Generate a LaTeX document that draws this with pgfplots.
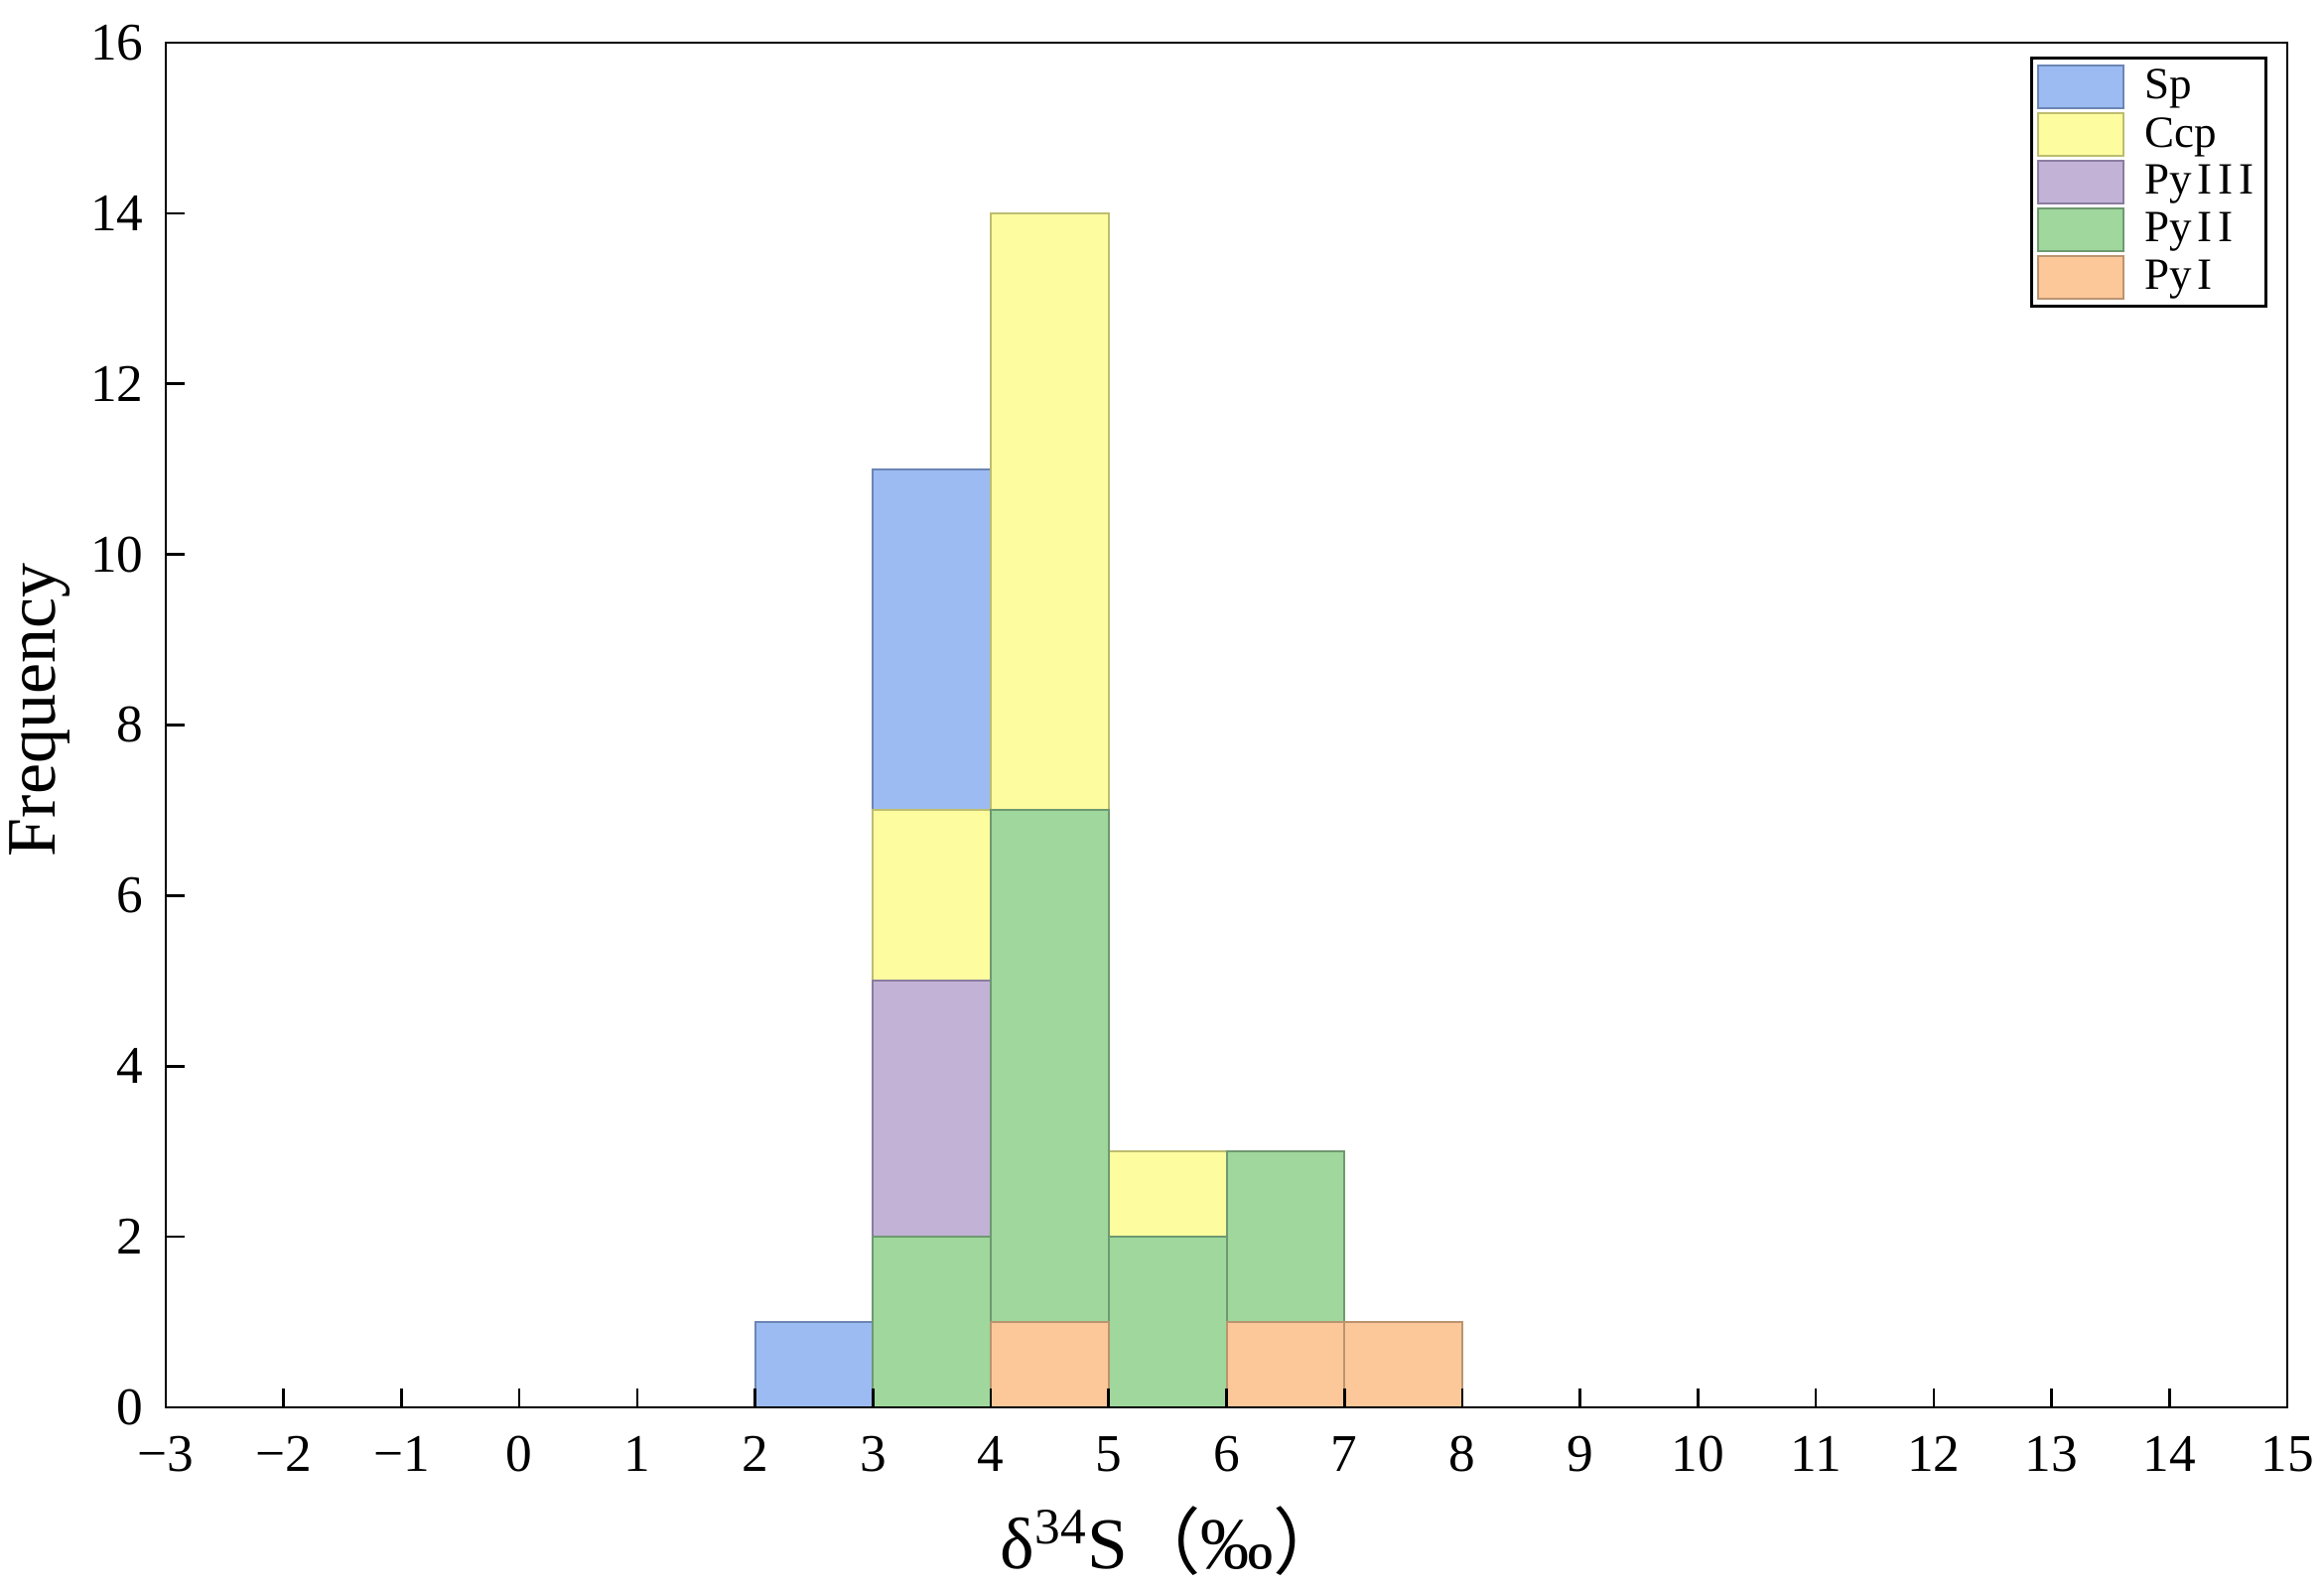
\documentclass[border=0pt]{standalone}
\usepackage{fontspec}
\setmainfont{Liberation Serif}
\newfontfamily\cjk{Noto Sans CJK SC}
\usepackage{pgfplots}
\pgfplotsset{compat=1.18}
\definecolor{spfill}{HTML}{9CBBF2}\definecolor{spedge}{HTML}{6B86B5}
\definecolor{ccfill}{HTML}{FDFDA0}\definecolor{ccedge}{HTML}{BDBD70}
\definecolor{p3fill}{HTML}{C1B2D6}\definecolor{p3edge}{HTML}{8A7CA0}
\definecolor{p2fill}{HTML}{9FD79C}\definecolor{p2edge}{HTML}{6E9970}
\definecolor{p1fill}{HTML}{FDC899}\definecolor{p1edge}{HTML}{BA9470}
\begin{document}
\begin{tikzpicture}
\begin{axis}[
 scale only axis, width=641.1pt, height=412.5pt,
 xmin=-3, xmax=15, ymin=0, ymax=16,
 xtick={-3,...,15},
 xticklabels={−3,−2,−1,0,1,2,3,4,5,6,7,8,9,10,11,12,13,14,15},
 ytick={0,2,...,16},
 tick align=inside, xtick pos=bottom, ytick pos=left,
 major tick length=5.7pt,
 line width=0.8pt,
 tick style={black, line width=0.8pt},
 axis line style={line width=0.8pt},
 every outer x axis line/.append style={line width=0.8pt},
 every outer y axis line/.append style={line width=0.8pt},
 axis on top,
 /pgf/number format/assume math mode=true,
 ticklabel style={font=\fontsize{16}{18}\selectfont},
 xticklabel style={yshift=-5pt},
 yticklabel style={xshift=-3pt},
 xlabel={δ\textsuperscript{34}S{\cjk （}‰{\cjk ）}},
 xlabel style={at={(axis description cs:0.475,-0.098)}, anchor=center, font=\fontsize{22}{24}\selectfont},
 ylabel={Frequency},
 ylabel style={at={(axis description cs:-0.0593,0.511)}, anchor=center, font=\fontsize{21}{24}\selectfont},
 legend style={at={(rel axis cs:1,1)}, anchor=north east, xshift=-6pt, yshift=-4.2pt,
   draw=black, line width=0.9pt, font=\fontsize{13.5}{15}\selectfont,
   cells={anchor=west}, row sep=0pt, inner sep=1.5pt},
 legend image code/.code={\draw[#1, line width=0.6pt] (0pt,-6.5pt) rectangle (26pt,6.5pt); \path (30pt,0pt);},
]
\addplot[ybar interval, fill=spfill, draw=spedge, line width=0.6pt] coordinates {(2,1)(3,11)(4,14)(5,3)(6,3)(7,1)(8,1)};
\addlegendentry{Sp}
\addplot[ybar interval, fill=ccfill, draw=ccedge, line width=0.6pt] coordinates {(2,0)(3,7)(4,14)(5,3)(6,3)(7,1)(8,1)};
\addlegendentry{Ccp}
\addplot[ybar interval, fill=p3fill, draw=p3edge, line width=0.6pt] coordinates {(2,0)(3,5)(4,7)(5,2)(6,3)(7,1)(8,1)};
\addlegendentry{Py\kern1.8pt I\kern1.8pt I\kern1.8pt I}
\addplot[ybar interval, fill=p2fill, draw=p2edge, line width=0.6pt] coordinates {(2,0)(3,2)(4,7)(5,2)(6,3)(7,1)(8,1)};
\addlegendentry{Py\kern1.8pt I\kern1.8pt I}
\addplot[ybar interval, fill=p1fill, draw=p1edge, line width=0.6pt] coordinates {(2,0)(3,0)(4,1)(5,0)(6,1)(7,1)(8,1)};
\addlegendentry{Py\kern1.8pt I}
\end{axis}
\pgfresetboundingbox
\path[use as bounding box] ([xshift=-50.1pt,yshift=-54.3pt]current axis.south west) rectangle ([xshift=11.1pt,yshift=12.9pt]current axis.north east);
\end{tikzpicture}
\end{document}
